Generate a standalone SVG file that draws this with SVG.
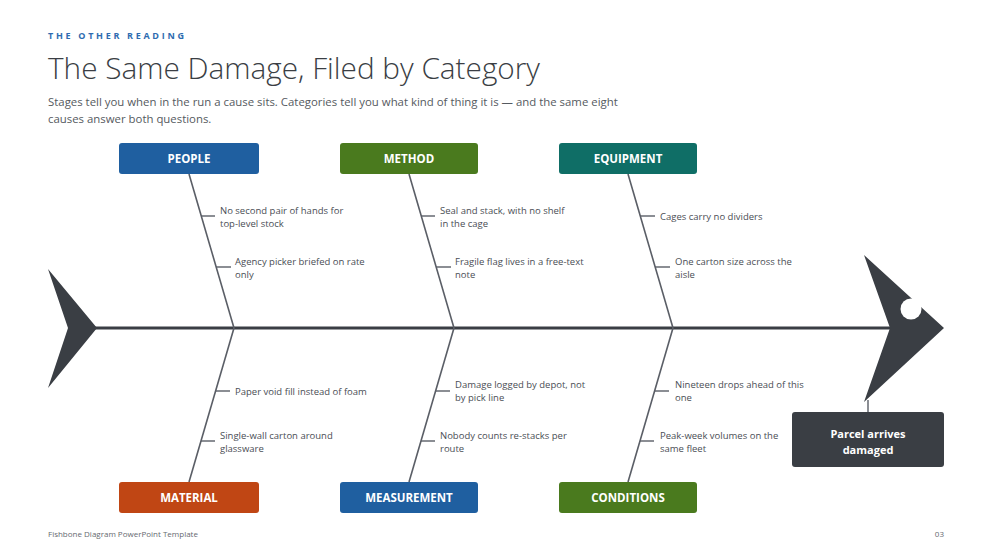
<svg xmlns="http://www.w3.org/2000/svg" width="993" height="559" viewBox="0 0 993 559">
<style>
  .kicker{font-family:"Open Sans","Liberation Sans",sans-serif;font-size:9px;font-weight:700;letter-spacing:2.7px;fill:#2e6bb0}
  .title{font-family:"Open Sans","Liberation Sans",sans-serif;font-size:30px;font-weight:300;fill:#3a3e44}
  .sub{font-family:"Open Sans","Liberation Sans",sans-serif;font-size:11.4px;fill:#555a60}
  .cat{font-family:"Open Sans","Liberation Sans",sans-serif;font-size:11.5px;font-weight:700;fill:#ffffff;text-anchor:middle}
  .cause{font-family:"Open Sans","Liberation Sans",sans-serif;font-size:9.5px;fill:#4a4e55}
  .bone{stroke:#5a5e66;stroke-width:1.6;fill:none}
  .tick{stroke:#5a5e66;stroke-width:1.4;fill:none}
  .head{fill:#3a3e44}
  .foot{font-family:"Open Sans","Liberation Sans",sans-serif;font-size:8px;fill:#666a70}
  .eff{font-family:"Open Sans","Liberation Sans",sans-serif;font-size:11px;font-weight:700;fill:#ffffff;text-anchor:middle}
</style>
<rect width="993" height="559" fill="#ffffff"/>
<text class="kicker" x="48" y="39">THE OTHER READING</text>
<text class="title" x="48" y="79" textLength="492" lengthAdjust="spacingAndGlyphs">The Same Damage, Filed by Category</text>
<text class="sub" x="48" y="106">Stages tell you when in the run a cause sits. Categories tell you what kind of thing it is — and the same eight</text>
<text class="sub" x="48" y="123">causes answer both questions.</text>

<g id="connectors">
  <line x1="95" y1="328" x2="892" y2="328" stroke="#3a3e44" stroke-width="3"/>
  <line class="bone" x1="189" y1="174" x2="234" y2="328"/>
  <line class="bone" x1="409" y1="174" x2="454" y2="328"/>
  <line class="bone" x1="628" y1="174" x2="673" y2="328"/>
  <line class="bone" x1="189" y1="482" x2="234" y2="328"/>
  <line class="bone" x1="409" y1="482" x2="454" y2="328"/>
  <line class="bone" x1="628" y1="482" x2="673" y2="328"/>
  <line x1="868" y1="400" x2="868" y2="412" stroke="#5a5e66" stroke-width="1.4"/>
</g>

<g id="tail">
  <polygon class="head" points="48,269 97,328 48,388 68,328"/>
</g>

<g id="head">
  <polygon class="head" points="864,255 944,328 864,402 890,328"/>
  <circle cx="911" cy="309" r="10.5" fill="#ffffff"/>
</g>

<g id="effect">
  <rect x="792" y="412" width="152" height="55" rx="3" class="head"/>
  <text class="eff" x="868" y="438">Parcel arrives</text>
  <text class="eff" x="868" y="453.5">damaged</text>
</g>

<g id="people">
  <rect x="119" y="143" width="140" height="31" rx="3" fill="#1f5fa0"/>
  <text class="cat" x="189" y="163">PEOPLE</text>
  <line class="tick" x1="201" y1="216" x2="215" y2="216"/>
  <text class="cause" x="220" y="214">No second pair of hands for</text>
  <text class="cause" x="220" y="227">top-level stock</text>
  <line class="tick" x1="216" y1="267" x2="231" y2="267"/>
  <text class="cause" x="235" y="265">Agency picker briefed on rate</text>
  <text class="cause" x="235" y="278">only</text>
</g>

<g id="method">
  <rect x="340" y="143" width="138" height="31" rx="3" fill="#4a7a1e"/>
  <text class="cat" x="409" y="163">METHOD</text>
  <line class="tick" x1="421" y1="216" x2="435" y2="216"/>
  <text class="cause" x="440" y="214">Seal and stack, with no shelf</text>
  <text class="cause" x="440" y="227">in the cage</text>
  <line class="tick" x1="436" y1="267" x2="451" y2="267"/>
  <text class="cause" x="455" y="265">Fragile flag lives in a free-text</text>
  <text class="cause" x="455" y="278">note</text>
</g>

<g id="equipment">
  <rect x="559" y="143" width="138" height="31" rx="3" fill="#0f6e66"/>
  <text class="cat" x="628" y="163">EQUIPMENT</text>
  <line class="tick" x1="640" y1="216" x2="655" y2="216"/>
  <text class="cause" x="660" y="219.5">Cages carry no dividers</text>
  <line class="tick" x1="655" y1="267" x2="670" y2="267"/>
  <text class="cause" x="675" y="265">One carton size across the</text>
  <text class="cause" x="675" y="278">aisle</text>
</g>

<g id="material">
  <rect x="119" y="482" width="140" height="31" rx="3" fill="#c04614"/>
  <text class="cat" x="189" y="502">MATERIAL</text>
  <line class="tick" x1="216" y1="391" x2="230" y2="391"/>
  <text class="cause" x="235" y="394.5">Paper void fill instead of foam</text>
  <line class="tick" x1="201" y1="441" x2="215" y2="441"/>
  <text class="cause" x="220" y="439">Single-wall carton around</text>
  <text class="cause" x="220" y="452">glassware</text>
</g>

<g id="measurement">
  <rect x="340" y="482" width="138" height="31" rx="3" fill="#1f5fa0"/>
  <text class="cat" x="409" y="502">MEASUREMENT</text>
  <line class="tick" x1="436" y1="391" x2="450" y2="391"/>
  <text class="cause" x="455" y="388">Damage logged by depot, not</text>
  <text class="cause" x="455" y="401">by pick line</text>
  <line class="tick" x1="421" y1="441" x2="435" y2="441"/>
  <text class="cause" x="440" y="439">Nobody counts re-stacks per</text>
  <text class="cause" x="440" y="452">route</text>
</g>

<g id="conditions">
  <rect x="559" y="482" width="138" height="31" rx="3" fill="#4a7a1e"/>
  <text class="cat" x="628" y="502">CONDITIONS</text>
  <line class="tick" x1="655" y1="391" x2="669" y2="391"/>
  <text class="cause" x="675" y="388">Nineteen drops ahead of this</text>
  <text class="cause" x="675" y="401">one</text>
  <line class="tick" x1="640" y1="441" x2="654" y2="441"/>
  <text class="cause" x="660" y="439">Peak-week volumes on the</text>
  <text class="cause" x="660" y="452">same fleet</text>
</g>

<text class="foot" x="48" y="537">Fishbone Diagram PowerPoint Template</text>
<text class="foot" x="944" y="537" text-anchor="end">03</text>
</svg>
